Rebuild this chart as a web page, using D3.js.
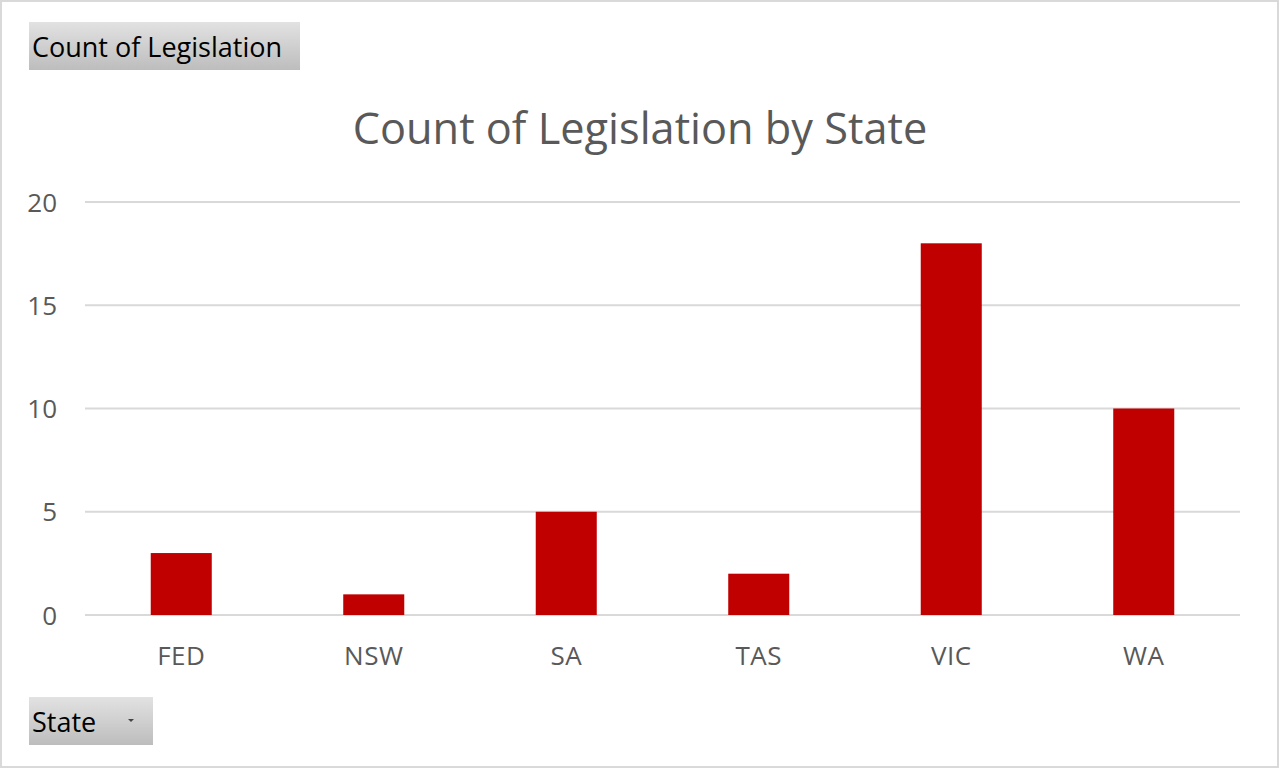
<!DOCTYPE html>
<html><head><meta charset="utf-8">
<script src="https://cdn.jsdelivr.net/npm/d3@7"></script>
<style>html,body{margin:0;padding:0;background:#fff;}svg{display:block;}</style>
</head><body>
<script>
const categories = ["FED", "NSW", "SA", "TAS", "VIC", "WA"];
const values = [3, 1, 5, 2, 18, 10];
const yTicks = [0, 5, 10, 15, 20];
const titleText = "Count of Legislation by State";
const valueButton = "Count of Legislation";
const axisButton = "State";

const W = 1280, H = 769;
const font = "'Open Sans', 'Noto Sans', sans-serif";
const svg = d3.select("body").append("svg").attr("width", W).attr("height", H);

const defs = svg.append("defs");
const g = defs.append("linearGradient").attr("id","btn").attr("x1",0).attr("y1",0).attr("x2",0).attr("y2",1);
g.append("stop").attr("offset","0%").attr("stop-color","#e2e2e2");
g.append("stop").attr("offset","100%").attr("stop-color","#bdbdbd");

svg.append("rect").attr("x",1).attr("y",1).attr("width",W-3).attr("height",H-3)
  .attr("fill","#fff").attr("stroke","#d9d9d9").attr("stroke-width",2);

const x = d3.scaleBand().domain(categories).range([85,1240]).paddingInner(0.683).paddingOuter(0.3415);
const y = d3.scaleLinear().domain([0,20]).range([615,202]);

// gridlines
svg.append("g").selectAll("line").data(yTicks).join("line")
  .attr("x1",85).attr("x2",1240).attr("y1",d=>y(d)).attr("y2",d=>y(d))
  .attr("stroke","#d9d9d9").attr("stroke-width",2);

// y axis labels
const yAxis = svg.append("g").attr("transform","translate(70,0)")
  .call(d3.axisLeft(y).tickValues(yTicks).tickSize(0).tickPadding(13));
yAxis.select(".domain").remove();
yAxis.selectAll("text").attr("font-family",font).attr("font-size",26).attr("fill","#595959").attr("dy","0.35em");

// bars
svg.append("g").selectAll("rect").data(values).join("rect")
  .attr("x",(d,i)=>x(categories[i])).attr("width",x.bandwidth())
  .attr("y",d=>y(d)).attr("height",d=>y(0)-y(d)).attr("fill","#c00000");

// x axis labels
const xAxis = svg.append("g").attr("transform","translate(0,615)")
  .call(d3.axisBottom(x).tickSize(0).tickPadding(32));
xAxis.select(".domain").remove();
xAxis.selectAll("text").attr("font-family",font).attr("font-size",26).attr("letter-spacing","0.5px").attr("fill","#595959");

// title
svg.append("text").attr("x",640).attr("y",144).attr("text-anchor","middle")
  .attr("font-family",font).attr("font-size",43.3).attr("fill","#595959").text(titleText);

// buttons
svg.append("rect").attr("x",29).attr("y",22).attr("width",271).attr("height",48).attr("fill","url(#btn)");
svg.append("text").attr("x",32).attr("y",57).attr("font-family",font).attr("font-size",27).attr("fill","#000").text(valueButton);

svg.append("rect").attr("x",29).attr("y",697).attr("width",124).attr("height",48).attr("fill","url(#btn)");
svg.append("text").attr("x",32).attr("y",732).attr("font-family",font).attr("font-size",27).attr("fill","#000").text(axisButton);
svg.append("path").attr("d","M128,719 L134,719 L131,722 Z").attr("fill","#444");
</script>
</body></html>
